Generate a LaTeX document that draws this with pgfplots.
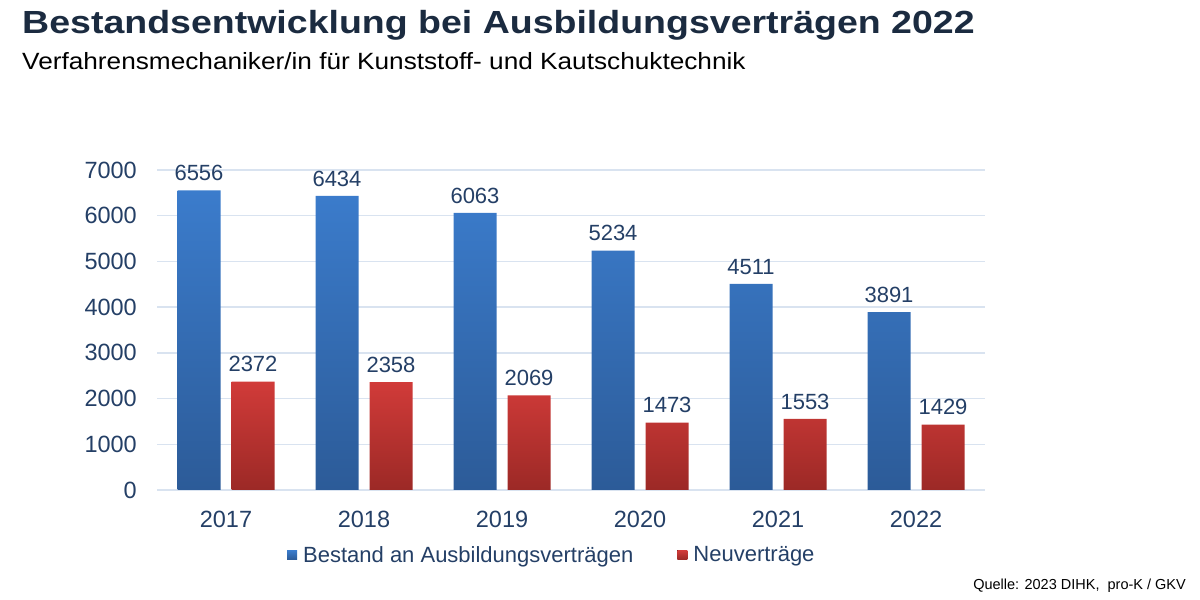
\documentclass[border=0pt]{standalone}
\usepackage{pgfplots}
\pgfplotsset{compat=1.18}
\usepackage{fontspec}
\setmainfont{Liberation Sans}
\definecolor{blueTop}{HTML}{3B7CCC}
\definecolor{blueBot}{HTML}{2C5B98}
\definecolor{redTop}{HTML}{D13B39}
\definecolor{redBot}{HTML}{9C2926}
\definecolor{titleC}{HTML}{1B2B40}
\definecolor{textC}{HTML}{243F66}
\definecolor{gridC}{HTML}{D9E3F0}
\begin{document}
\begin{tikzpicture}[x=1bp,y=1bp]
\path[use as bounding box] (0,0) rectangle (1200,600);
\node[anchor=base west, inner sep=0pt, xscale=1.172, text=titleC, font=\fontsize{32bp}{36bp}\selectfont\bfseries] at (22,566) {Bestandsentwicklung bei Ausbildungsverträgen 2022};
\node[anchor=base west, inner sep=0pt, xscale=1.115, text=black, font=\fontsize{23.5bp}{27bp}\selectfont] at (22,530) {Verfahrensmechaniker/in für Kunststoff- und Kautschuktechnik};
\node[anchor=base east, inner sep=0pt, text=black, font=\fontsize{14.5bp}{17bp}\selectfont] at (1186,10) {Quelle: 2023 DIHK,\ \ pro-K / GKV};
\begin{axis}[
  at={(157bp,110bp)}, anchor=south west,
  scale only axis, width=828bp, height=320bp,
  ybar=11bp, bar width=43bp,
  xmin=-0.5, xmax=5.5, ymin=0, ymax=7000,
  xtick=data, xticklabels={2017,2018,2019,2020,2021,2022},
  ytick={0,1000,...,7000},
  ymajorgrids, grid style={draw=gridC, line width=1.5bp},
  axis line style={draw=none}, tick style={draw=none},
  /pgf/number format/.cd, 1000 sep={}, assume math mode=true, /pgfplots/.cd,
  tick label style={font=\fontsize{23.5bp}{27bp}\selectfont, text=textC},
  yticklabel style={anchor=east, inner sep=0pt, xshift=-20bp},
  xticklabel style={anchor=north, inner sep=0pt, yshift=-17bp},
  nodes near coords,
  nodes near coords style={font=\fontsize{22bp}{26bp}\selectfont, text=textC, yshift=6bp},
  legend columns=2,
  legend style={at={(rel axis cs:0.157,-0.203)}, anchor=west, draw=none, fill=none, inner sep=0pt,
    font=\fontsize{22bp}{26bp}\selectfont, text=textC,
    nodes={inner sep=0pt},
    /tikz/every odd column/.append style={column sep=6bp},
    /tikz/every even column/.append style={column sep=44bp}},
  legend image code/.code={\fill (0bp,-4.5bp) rectangle (10bp,4.5bp);},
]
\addplot[draw=none, top color=blueTop, bottom color=blueBot] coordinates {(0,6556) (1,6434) (2,6063) (3,5234) (4,4511) (5,3891)};
\addplot[draw=none, top color=redTop, bottom color=redBot] coordinates {(0,2372) (1,2358) (2,2069) (3,1473) (4,1553) (5,1429)};
\legend{Bestand an Ausbildungsverträgen, Neuverträge}
\end{axis}
\end{tikzpicture}
\end{document}
